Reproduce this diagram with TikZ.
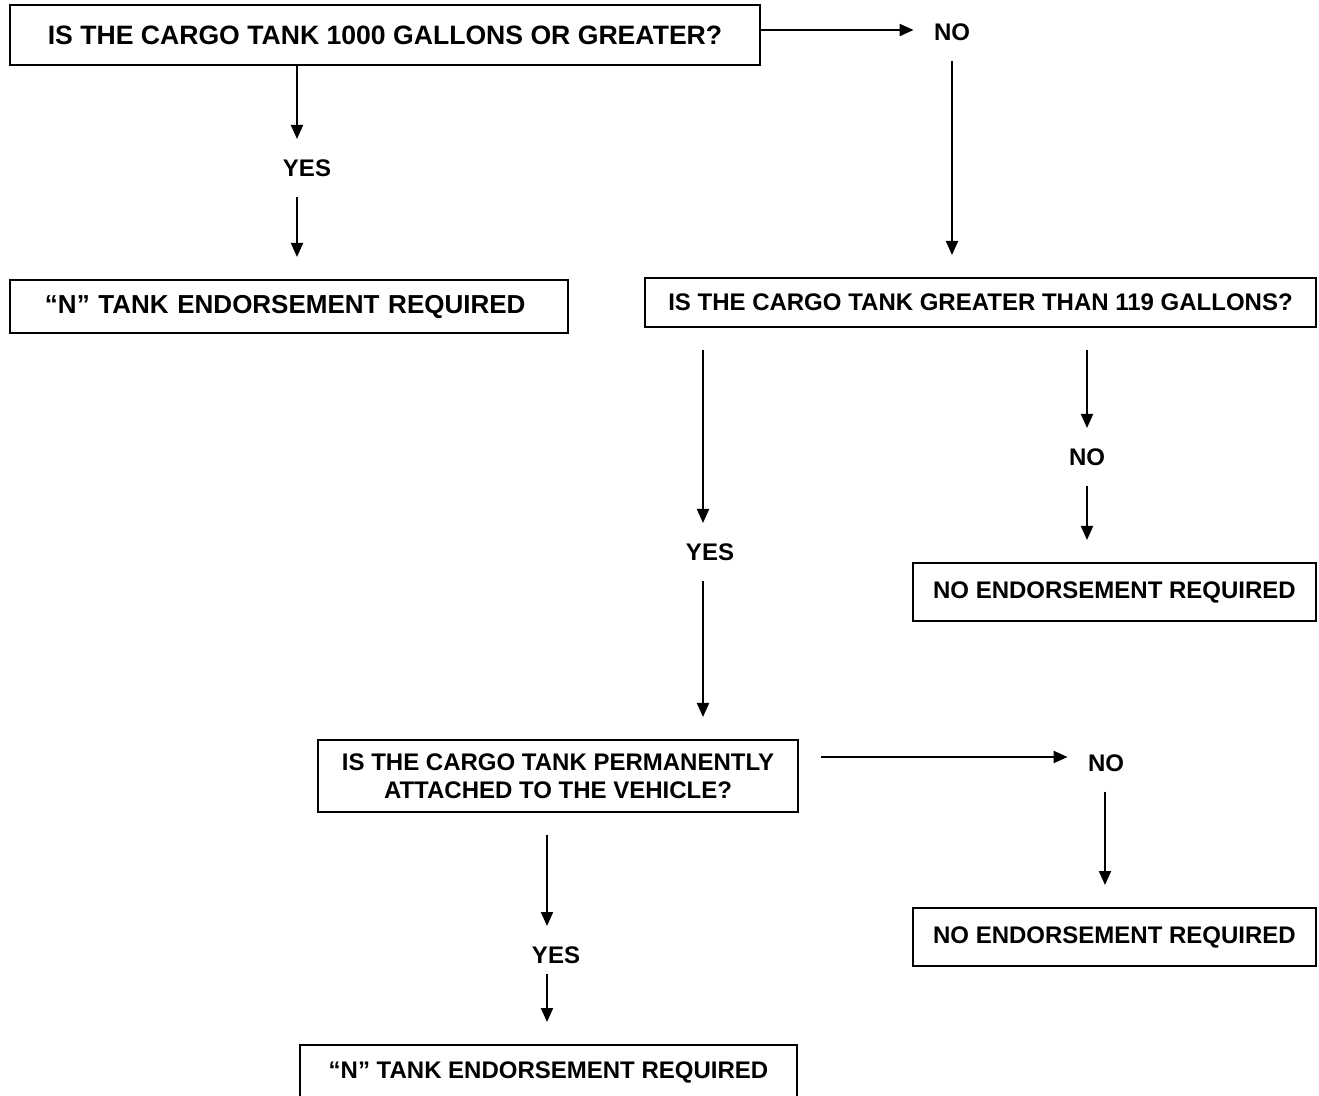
\documentclass[tikz,border=0pt]{standalone}
\usepackage{fontspec}
\setmainfont{Liberation Sans}
\usepackage{tikz}
\usetikzlibrary{arrows.meta}

\tikzset{
    qbox/.style={draw, line width=1pt, align=center, inner sep=0pt,
        font=\fontsize{12pt}{14pt}\selectfont\bfseries},
    bigtext/.style={font=\fontsize{13.3pt}{15pt}\selectfont\bfseries},
    lbl/.style={inner sep=10pt, text height=8.6pt, text depth=0pt,
        font=\fontsize{12pt}{14pt}\selectfont\bfseries},
    arr/.style={-{Triangle[length=7pt,width=6pt]}, line width=1pt},
    gapstart/.style={shorten <=11pt},
    gapend/.style={shorten >=11pt},
}

\begin{document}
\begin{tikzpicture}[x=0.5pt,y=-0.5pt]
    \useasboundingbox (0,0) rectangle (1319,1096);
    % boxes
    \node[qbox, bigtext, minimum width=375pt, minimum height=30pt] (q1) at (385,35) {IS THE CARGO TANK 1000 GALLONS OR GREATER?};
    \node[qbox, font=\fontsize{13pt}{15pt}\selectfont\bfseries, minimum height=26.5pt,
        inner xsep=17.5pt, text width=244pt, align=left] (nA) at (289,306.5) {“N” TANK ENDORSEMENT REQUIRED};
    \node[qbox, minimum width=335.5pt, minimum height=24.5pt] (q2) at (980.5,302.5) {IS THE CARGO TANK GREATER THAN 119 GALLONS?};
    \node[qbox, minimum width=201.5pt, minimum height=29pt] (none1) at (1114.5,592) {NO ENDORSEMENT REQUIRED};
    \node[qbox, minimum width=240pt, minimum height=36pt] (q3) at (558,776) {IS THE CARGO TANK PERMANENTLY\\ATTACHED TO THE VEHICLE?};
    \node[qbox, minimum width=201.5pt, minimum height=29pt] (none2) at (1114.5,937) {NO ENDORSEMENT REQUIRED};
    \node[qbox, minimum width=248.5pt, minimum height=27.5pt] (nB) at (548.5,1072.5) {“N” TANK ENDORSEMENT REQUIRED};
    % answers
    \node[lbl] (no1) at (952,32) {NO};
    \node[lbl] (yes1) at (307,168) {YES};
    \node[lbl] (yes2) at (710,552) {YES};
    \node[lbl] (no2) at (1087,457) {NO};
    \node[lbl] (no3) at (1106,763) {NO};
    \node[lbl] (yes3) at (556,955) {YES};
    % arrow columns
    \coordinate (colA) at (297,0);
    \coordinate (colB) at (703,0);
    \coordinate (colC) at (1087,0);
    \coordinate (colD) at (547,0);
    \coordinate (colE) at (1105,0);
    % arrows
    \draw[arr] ([yshift=1pt]q1.east |- no1) -- ([yshift=1pt]no1.west);
    \draw[arr, gapend] (no1.south) -- (q2.north -| no1);
    \draw[arr] (q1.south -| colA) -- (yes1.north -| colA);
    \draw[arr, gapend] (yes1.south -| colA) -- (nA.north -| colA);
    \draw[arr, gapstart] (q2.south -| colB) -- (yes2.north -| colB);
    \draw[arr, gapend] (yes2.south -| colB) -- (q3.north -| colB);
    \draw[arr, gapstart] (q2.south -| colC) -- (no2.north -| colC);
    \draw[arr, gapend] (no2.south -| colC) -- (none1.north -| colC);
    \draw[arr, gapstart] ([yshift=3pt]q3.east |- no3) -- ([yshift=3pt]no3.west);
    \draw[arr, gapend] (no3.south -| colE) -- (none2.north -| colE);
    \draw[arr, gapstart] (q3.south -| colD) -- (yes3.north -| colD);
    \draw[arr, gapend, shorten <=-5pt] (yes3.south -| colD) -- (nB.north -| colD);
\end{tikzpicture}
\end{document}
